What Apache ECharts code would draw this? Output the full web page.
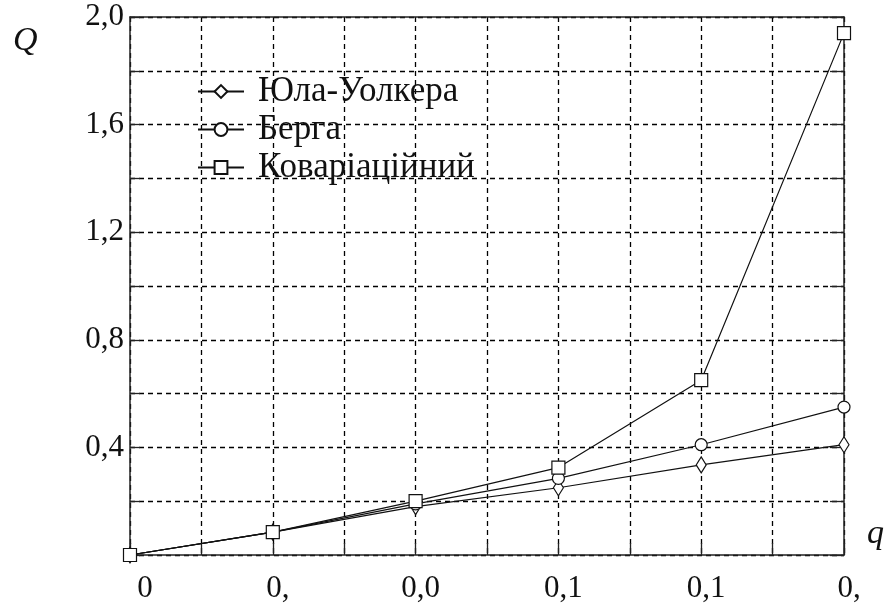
<!DOCTYPE html>
<html>
<head>
<meta charset="utf-8">
<script src="https://cdn.jsdelivr.net/npm/echarts@6/dist/echarts.min.js"></script>
<style>
  html, body { margin: 0; padding: 0; background: #fff; }
  #chart { width: 895px; height: 604px; }
</style>
</head>
<body>
<div id="chart"></div>
<script>
// q values at which each estimate was computed
const qValues = [0, 0.04, 0.08, 0.12, 0.16, 0.2];

// Q for each estimation method
const seriesNames = ['Юла-Уолкера', 'Берга', 'Коваріаційний'];
const yuleWalker = [0, 0.085, 0.18, 0.25, 0.335, 0.41];
const burg = [0, 0.085, 0.19, 0.285, 0.41, 0.55];
const covariance = [0, 0.085, 0.2, 0.325, 0.65, 1.94];

// tick labels as printed on the axes
const xTickValues = [0, 0.04, 0.08, 0.12, 0.16, 0.2];
const xTickLabels = ['0', '0,', '0,0', '0,1', '0,1', '0,'];
const yTickValues = [0.4, 0.8, 1.2, 1.6, 2.0];
const yTickLabels = ['0,4', '0,8', '1,2', '1,6', '2,0'];

const FONT = "'Liberation Serif', 'Times New Roman', serif";
const INK = '#111';

function findLabel(values, v) {
  for (let i = 0; i < values.length; i++) {
    if (Math.abs(values[i] - v) < 1e-9) return i;
  }
  return -1;
}

const gridLine = { show: true, lineStyle: { color: '#000', type: [5, 4], width: 1.3 } };
const frameLine = { show: true, onZero: false, lineStyle: { color: '#222', width: 1.5 } };
const tickStyle = { color: '#222', width: 1.3 };

function pairs(ys) {
  return qValues.map((q, i) => [q, ys[i]]);
}

const markerStyle = { color: '#fff', borderColor: INK, borderWidth: 1.2 };

const chart = echarts.init(document.getElementById('chart'), null, { renderer: 'canvas' });

chart.setOption({
  animation: false,
  backgroundColor: '#fff',
  grid: { left: 130, right: 51, top: 17, bottom: 48, containLabel: false },
  legend: {
    orient: 'vertical',
    left: 197,
    top: 74,
    padding: 0,
    itemWidth: 46,
    itemHeight: 16,
    itemGap: 3,
    data: seriesNames,
    textStyle: {
      fontFamily: FONT,
      fontSize: 35,
      color: INK,
      lineHeight: 35,
      padding: [0, 0, 0, 9]
    }
  },
  xAxis: [
    {
      type: 'value',
      position: 'bottom',
      min: 0,
      max: 0.2,
      interval: 0.02,
      axisLine: frameLine,
      axisTick: { show: true, inside: true, length: 12, lineStyle: tickStyle },
      splitLine: gridLine,
      axisLabel: {
        fontFamily: FONT,
        fontSize: 31,
        color: INK,
        margin: 18,
        showMinLabel: true,
        showMaxLabel: true,
        formatter: function (v) {
          const i = findLabel(xTickValues, v);
          if (i < 0) return '';
          return i === 0 ? '{first|' + xTickLabels[i] + '}' : '{rest|' + xTickLabels[i] + '}';
        },
        rich: {
          first: { fontFamily: FONT, fontSize: 31, color: INK, padding: [0, 0, 0, 30] },
          rest: { fontFamily: FONT, fontSize: 31, color: INK, padding: [0, 0, 0, 10] }
        }
      }
    },
    {
      type: 'value',
      position: 'top',
      min: 0,
      max: 0.2,
      interval: 0.02,
      axisLine: frameLine,
      axisTick: { show: false },
      axisLabel: { show: false },
      splitLine: { show: false }
    }
  ],
  yAxis: [
    {
      type: 'value',
      position: 'left',
      min: 0,
      max: 2,
      interval: 0.2,
      axisLine: frameLine,
      axisTick: { show: true, inside: true, length: 10, lineStyle: tickStyle },
      splitLine: gridLine,
      axisLabel: {
        fontFamily: FONT,
        fontSize: 31,
        color: INK,
        margin: 6,
        showMaxLabel: true,
        formatter: function (v) {
          const i = findLabel(yTickValues, v);
          return i < 0 ? '' : yTickLabels[i];
        }
      }
    },
    {
      type: 'value',
      position: 'right',
      min: 0,
      max: 2,
      interval: 0.2,
      axisLine: frameLine,
      axisTick: { show: true, inside: true, length: 14, lineStyle: tickStyle },
      axisLabel: { show: false },
      splitLine: { show: false }
    }
  ],
  graphic: [
    {
      type: 'text',
      left: 13,
      top: 24,
      style: { text: 'Q', font: 'italic 34px ' + FONT, fill: INK }
    },
    {
      type: 'text',
      left: 867,
      top: 517,
      style: { text: 'q', font: 'italic 34px ' + FONT, fill: INK }
    }
  ],
  series: [
    {
      name: seriesNames[0],
      type: 'line',
      data: pairs(yuleWalker),
      symbol: 'diamond',
      symbolSize: [10, 16],
      showAllSymbol: true,
      lineStyle: { color: INK, width: 1.2 },
      itemStyle: markerStyle,
      z: 3
    },
    {
      name: seriesNames[1],
      type: 'line',
      data: pairs(burg),
      symbol: 'circle',
      symbolSize: 12,
      showAllSymbol: true,
      lineStyle: { color: INK, width: 1.2 },
      itemStyle: markerStyle,
      z: 4
    },
    {
      name: seriesNames[2],
      type: 'line',
      data: pairs(covariance),
      symbol: 'rect',
      symbolSize: 13,
      showAllSymbol: true,
      lineStyle: { color: INK, width: 1.2 },
      itemStyle: markerStyle,
      z: 5
    }
  ]
});
</script>
</body>
</html>
